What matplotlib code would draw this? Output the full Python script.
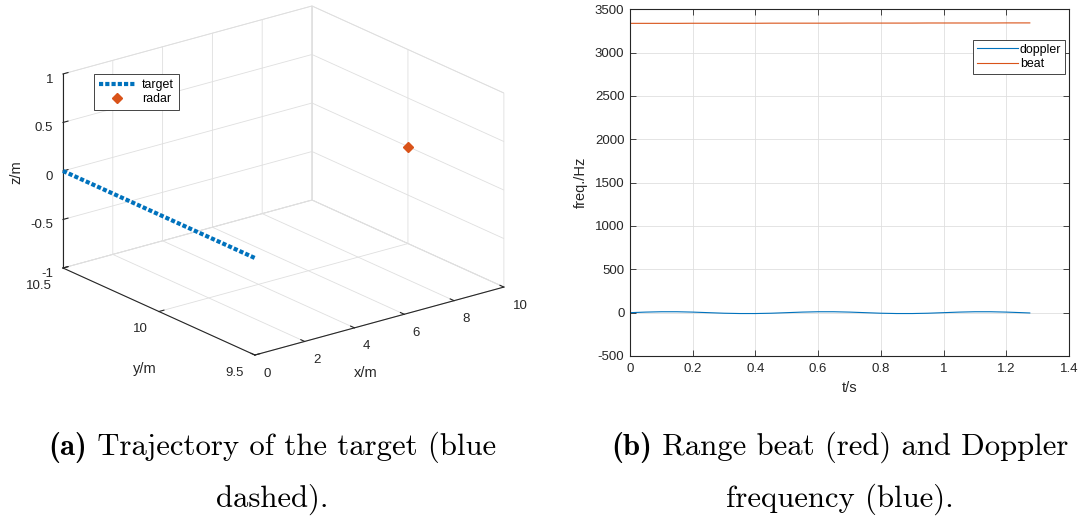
import numpy as np
import matplotlib
matplotlib.use('Agg')
import matplotlib.pyplot as plt
from matplotlib.ticker import FixedLocator, FuncFormatter

# ---------------- data ----------------
# (a) 3-D trajectory
traj_x = [0.0, 0.0]
traj_y = [10.5, 9.5]
traj_z = [0.0, 0.0]
radar_x = [10.0]
radar_y = [10.0]
radar_z = [0.0]
x3_ticks = [0, 2, 4, 6, 8, 10]
y3_ticks = [9.5, 10, 10.5]
z3_ticks = [-1, -0.5, 0, 0.5, 1]

# (b) frequencies
t_s = [0.0, 0.05, 0.10, 0.15, 0.20, 0.25, 0.30, 0.35, 0.40, 0.45, 0.50,
       0.55, 0.60, 0.65, 0.70, 0.75, 0.80, 0.85, 0.90, 0.95, 1.00,
       1.05, 1.10, 1.15, 1.20, 1.25, 1.275]
doppler = [0, 6.5, 10.5, 10.5, 6.5, 0, -6.5, -10, -10, -6.5, 0,
           6.5, 10.5, 10.5, 6.5, 0, -6.5, -10, -10, -6.5, 0,
           6.5, 10.5, 10.5, 6.5, 0, -3.5]
beat = [3338, 3338, 3338, 3338, 3339, 3339, 3339, 3339, 3339, 3340, 3340,
        3340, 3340, 3340, 3341, 3341, 3341, 3341, 3341, 3342, 3342,
        3342, 3342, 3342, 3343, 3343, 3343]
t_ticks = [0, 0.2, 0.4, 0.6, 0.8, 1.0, 1.2, 1.4]
f_ticks = [-500, 0, 500, 1000, 1500, 2000, 2500, 3000, 3500]

caption_a = ['(a)', 'Trajectory of the target (blue', 'dashed).']
caption_b = ['(b)', 'Range beat (red) and Doppler', 'frequency (blue).']

# ---------------- style ----------------
BLUE = '#0072BD'
ORANGE = '#D95319'
AXC = '#262626'
GRID = '#dfdfdf'
W, H = 1084, 520
plt.rcParams['font.family'] = ['Liberation Sans', 'DejaVu Sans']
plt.rcParams['grid.color'] = GRID
plt.rcParams['grid.linewidth'] = 0.6

fig = plt.figure(figsize=(W / 100, H / 100), dpi=100)
fmt = FuncFormatter(lambda v, p: '%g' % v)


def px(x, y):
    return x / W, 1 - y / H


# ---------------- (a) 3-D axes ----------------
ax3 = fig.add_axes([0.0, 0.1, 0.5, 0.8], projection='3d', proj_type='ortho')
ax3.set_facecolor('none')
ax3.view_init(elev=20.6, azim=-127.8)
ax3.set_box_aspect((1.52, 1.51, 1.0))

ax3.plot(traj_x, traj_y, traj_z, color=BLUE, lw=3.0, dashes=(1.0, 0.5),
         dash_capstyle='butt', label='target')
ax3.plot(radar_x, radar_y, radar_z, linestyle='none', marker='D', ms=5.6,
         color=ORANGE, mec=ORANGE, label='radar')
ref = ax3.plot([0, 10, 0], [10.5, 9.5, 10.5], [-1, -1, 1], alpha=0)[0]

ax3.set_xlim(0, 10)
ax3.set_ylim(9.5, 10.5)
ax3.set_zlim(-1, 1)
ax3.xaxis.set_major_locator(FixedLocator(x3_ticks))
ax3.yaxis.set_major_locator(FixedLocator(y3_ticks))
ax3.zaxis.set_major_locator(FixedLocator(z3_ticks))
for axis in (ax3.xaxis, ax3.yaxis, ax3.zaxis):
    axis.set_major_formatter(fmt)
    axis.set_pane_color((1, 1, 1, 1))
    axis.pane.set_edgecolor(GRID)
    axis.pane.set_linewidth(0.6)
    axis._axinfo['grid'].update(color=GRID, linewidth=0.6)
    axis.line.set_color(AXC)
    axis.line.set_linewidth(0.8)
    axis._axinfo['tick']['inward_factor'] = 0.0
    axis._axinfo['tick']['outward_factor'] = 0.25
ax3.tick_params(labelsize=9.5, colors=AXC, width=0.6, pad=0)
ax3.zaxis.set_tick_params(pad=-4)
ax3.set_xlabel('')
ax3.set_ylabel('')
ax3.set_zlabel('')
fig.text(*px(366, 373), 'x/m', fontsize=10.5, color=AXC,
         ha='center', va='center')
fig.text(*px(145, 369), 'y/m', fontsize=10.5, color=AXC,
         ha='center', va='center')
fig.text(*px(16, 172), 'z/m', fontsize=10.5, color=AXC,
         ha='center', va='center', rotation=90)

ax3.legend(loc='upper left', bbox_to_anchor=px(94, 74),
           bbox_transform=fig.transFigure, fontsize=8.9, frameon=True,
           fancybox=False, framealpha=1, edgecolor=AXC, borderaxespad=0,
           borderpad=0.4, labelspacing=0.2, handlelength=3.0,
           handletextpad=0.5)
ax3.get_legend().get_frame().set_linewidth(0.6)

# ---------------- (b) 2-D axes ----------------
ax2 = fig.add_axes([630 / W, 1 - 356 / H, 439 / W, (356 - 9.3) / H])
ax2.plot(t_s, doppler, color=BLUE, lw=0.8, label='doppler')
ax2.plot(t_s, beat, color=ORANGE, lw=0.8, label='beat')
ax2.set_xlim(0, 1.4)
ax2.set_ylim(-500, 3500)
ax2.xaxis.set_major_locator(FixedLocator(t_ticks))
ax2.yaxis.set_major_locator(FixedLocator(f_ticks))
ax2.xaxis.set_major_formatter(fmt)
ax2.yaxis.set_major_formatter(fmt)
ax2.grid(True, color=GRID, lw=0.6)
ax2.set_axisbelow(True)
for sp in ax2.spines.values():
    sp.set_color(AXC)
    sp.set_linewidth(0.8)
ax2.tick_params(direction='in', length=4, width=0.6, top=True, right=True,
                labelsize=9.5, colors=AXC)
ax2.tick_params(axis='x', pad=5)
ax2.tick_params(axis='y', pad=4)
ax2.set_xlabel('t/s', fontsize=10.5, color=AXC, labelpad=4)
ax2.set_ylabel('freq./Hz', fontsize=10.5, color=AXC, labelpad=5)
ax2.legend(loc='upper right', bbox_to_anchor=px(1065, 40),
           bbox_transform=fig.transFigure, fontsize=8.9, frameon=True,
           fancybox=False, framealpha=1, edgecolor=AXC, borderaxespad=0,
           borderpad=0.3, labelspacing=0.2, handlelength=3.3,
           handletextpad=0.15)
ax2.get_legend().get_frame().set_linewidth(0.6)

# ---------------- captions ----------------
FS0 = 20
cap_items = []
for cx, (tag, l1, l2) in ((272, caption_a), (840, caption_b)):
    tb = fig.text(0, 1 - 455 / H, tag, family='cmb10', fontsize=FS0,
                  ha='left', va='baseline', color='black')
    t1 = fig.text(0, 1 - 455 / H, ' ' + l1, family='cmr10', fontsize=FS0,
                  ha='left', va='baseline', color='black')
    t2 = fig.text(cx / W, 1 - 507 / H, l2, family='cmr10', fontsize=FS0,
                  ha='center', va='baseline', color='black')
    cap_items.append((cx, tb, t1, t2))

# ---------------- calibrate 3-D box placement & caption size ----------------
fig.canvas.draw()
pts = ref.get_transform().transform(np.column_stack(ref.get_data()))
tgt_left = np.array([63.0, H - 268.0])
tgt_right = np.array([504.0, H - 287.0])
tgt_top = np.array([63.0, H - 74.0])
s_h = (tgt_right[0] - tgt_left[0]) / (pts[1, 0] - pts[0, 0])
s_v = (tgt_top[1] - tgt_left[1]) / (pts[2, 1] - pts[0, 1])
sc = 0.5 * (s_h + s_v)
bb = ax3.bbox
side = bb.width
u = (pts[0] - np.array([bb.x0, bb.y0])) / side
new_side = side * sc
o = tgt_left - new_side * u
ax3.set_position([o[0] / W, o[1] / H, new_side / W, new_side / H])
ref.remove()

# tick label alignment like the reference
for tk in ax3.xaxis.get_major_ticks():
    tk.label1.set_horizontalalignment('left')
for tk in ax3.yaxis.get_major_ticks():
    tk.label1.set_horizontalalignment('right')
for tk in ax3.zaxis.get_major_ticks():
    tk.label1.set_horizontalalignment('right')

r = fig.canvas.get_renderer()
_, tb_b, t1_b, _ = cap_items[1]
wb = tb_b.get_window_extent(r).width + t1_b.get_window_extent(r).width
fs = FS0 * 458.0 / wb
for cx, tb, t1, t2 in cap_items:
    for t in (tb, t1, t2):
        t.set_fontsize(fs)
fig.canvas.draw()
r = fig.canvas.get_renderer()
for cx, tb, t1, t2 in cap_items:
    w0 = tb.get_window_extent(r).width
    w1 = t1.get_window_extent(r).width
    x0 = cx - 0.5 * (w0 + w1)
    tb.set_x(x0 / W)
    t1.set_x((x0 + w0) / W)

fig.savefig('out.png', dpi=100, facecolor='white')
